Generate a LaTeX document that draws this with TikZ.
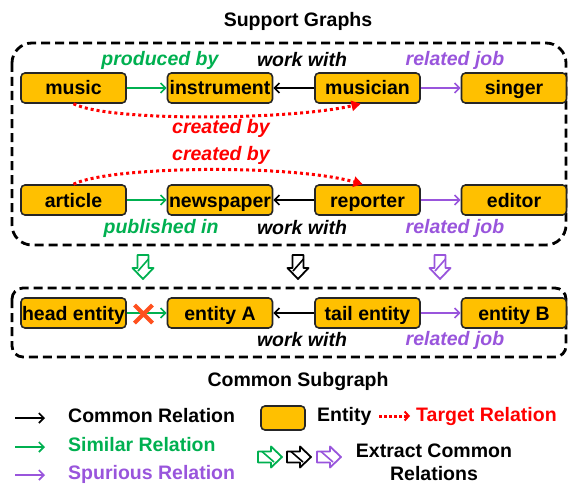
\documentclass[tikz,border=0pt]{standalone}
\usepackage{fontspec}
\setmainfont{Liberation Sans}
\usetikzlibrary{arrows.meta}
\definecolor{ent}{RGB}{255,192,0}
\definecolor{sim}{RGB}{0,176,80}
\definecolor{spu}{RGB}{153,85,220}
\definecolor{tgt}{RGB}{255,0,0}
\definecolor{xred}{RGB}{255,80,30}
\newcommand\myfs{\fontsize{19.5}{23}\selectfont}
\tikzset{
  entity/.style={draw=black!85,line width=1.6pt,fill=ent,rounded corners=4pt,
    minimum width=105pt,minimum height=30pt,inner sep=0pt,font=\myfs\bfseries,
    text height=14pt,text depth=0pt},
  lbl/.style={font=\myfs\bfseries\itshape,inner sep=0pt},
  ttl/.style={font=\myfs\bfseries,inner sep=0pt},
  rel/.style={line width=1.6pt,-{Straight Barb[length=5pt,width=10pt,line width=1.6pt]}},
  tgtrel/.style={tgt,line width=3pt,dash pattern=on 3pt off 3pt,
    -{Triangle[length=9pt,width=11pt,line width=0pt]}},
  dbox/.style={line width=2.8pt,dash pattern=on 9pt off 5pt},
  hollow/.pic={
    \draw[line width=1.8pt,fill=white,line join=round]
      (-5.5,-12) -- (5.5,-12) -- (5.5,1) -- (10.5,1) -- (0,12) -- (-10.5,1) -- (-5.5,1) -- cycle;
    \draw[line width=1.6pt] (5.5,-8) -- (-5,4);
  }
}
\begin{document}
\begin{tikzpicture}[x=1pt,y=-1pt]
\useasboundingbox (0,0) rectangle (569,484);
% titles
\node[ttl] (t1) at (298,21) {Support Graphs};
\node[ttl] (t2) at (298,381) {Common Subgraph};
% dashed boxes
\draw[dbox,rounded corners=20pt] (12,43) rectangle (566,245);
\draw[dbox,rounded corners=11pt] (12,288) rectangle (566,357);
% row 1
\node[entity] (music) at (73.5,88) {music};
\node[entity] (instr) at (220,88) {instrument};
\node[entity] (musician) at (367.5,88) {musician};
\node[entity] (singer) at (514,88) {singer};
\draw[rel,sim] (music) -- (instr);
\draw[rel,black] (musician) -- (instr);
\draw[rel,spu] (musician) -- (singer);
\node[lbl,sim] (l1) at (160,60) {produced by};
\node[lbl,black] (l2) at (302,60) {work with};
\node[lbl,spu] (l3) at (455,60) {related job};
\draw[tgtrel] (music.south) .. controls (110,122) and (290,120) .. ([xshift=-7pt]musician.south);
\node[lbl,tgt] (c1) at (221,128) {created by};
% row 2
\node[entity] (article) at (73.5,200) {article};
\node[entity] (news) at (220,200) {newspaper};
\node[entity] (reporter) at (367.5,200) {reporter};
\node[entity] (editor) at (514,200) {editor};
\draw[rel,sim] (article) -- (news);
\draw[rel,black] (reporter) -- (news);
\draw[rel,spu] (reporter) -- (editor);
\node[lbl,tgt] (c2) at (221,155) {created by};
\draw[tgtrel] (article.north) .. controls (110,166) and (290,164) .. ([xshift=-5pt]reporter.north);
\node[lbl,sim] (l4) at (161,228) {published in};
\node[lbl,black] (l5) at (302,228) {work with};
\node[lbl,spu] (l6) at (455,228) {related job};
% hollow arrows
\pic[color=sim] (ha1) at (143,267) {hollow};
\pic[color=black] (ha2) at (298,267) {hollow};
\pic[color=spu] (ha3) at (440,267) {hollow};
% common subgraph
\node[entity] (head) at (73.5,313) {head entity};
\node[entity] (entA) at (220,313) {entity A};
\node[entity] (tail) at (367.5,313) {tail entity};
\node[entity] (entB) at (514,313) {entity B};
\draw[rel,sim] (head) -- (entA);
\draw[rel,black] (tail) -- (entA);
\draw[rel,spu] (tail) -- (entB);
\coordinate (xc) at (143.5,314);
\draw[xred,line width=4pt] ([shift={(-9,-9)}]xc) -- ([shift={(9,9)}]xc)
  ([shift={(-9,9)}]xc) -- ([shift={(9,-9)}]xc);
\node[lbl,black] (l7) at (302,340) {work with};
\node[lbl,spu] (l8) at (455,340) {related job};
% legend
\coordinate (a1s) at (15,418); \coordinate (a1e) at (45,418);
\coordinate (a2s) at (15,447); \coordinate (a2e) at (45,447);
\coordinate (a3s) at (15,475); \coordinate (a3e) at (45,475);
\draw[rel,black] (a1s) -- (a1e);
\draw[rel,sim] (a2s) -- (a2e);
\draw[rel,spu] (a3s) -- (a3e);
\node[ttl,black,anchor=west] (g1) at (68,416) {Common Relation};
\node[ttl,sim,anchor=west] (g2) at (68,445) {Similar Relation};
\node[ttl,spu,anchor=west] (g3) at (68,474) {Spurious Relation};
\node[entity,minimum width=44pt,minimum height=24pt] (gbox) at (283,418) {};
\node[ttl,anchor=west] (g4) at (317,416) {Entity};
\coordinate (tds) at (379,416); \coordinate (tde) at (410,416);
\draw[tgt,line width=3pt,dash pattern=on 2.5pt off 2.5pt,-{Straight Barb[length=4pt,width=9pt,line width=2pt]}] (tds) -- (tde);
\node[ttl,tgt,anchor=west] (g5) at (416,416) {Target Relation};
\pic[color=sim,rotate=90] (hb1) at (270,457) {hollow};
\pic[color=black,rotate=90] (hb2) at (299,457) {hollow};
\pic[color=spu,rotate=90] (hb3) at (329,457) {hollow};
\node[ttl,align=center] (g6) at (434,462) {Extract Common\\Relations};
\end{tikzpicture}
\end{document}
